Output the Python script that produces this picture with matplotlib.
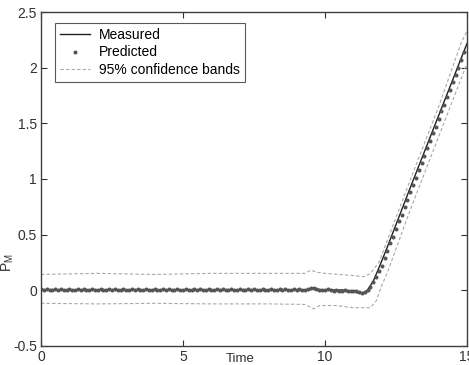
import numpy as np
import matplotlib.pyplot as plt

plt.rcParams['font.family'] = ['Liberation Sans', 'DejaVu Sans']

# measured response (key points of the solid line)
meas_t = [0.0, 2.0, 4.0, 6.0, 8.0, 9.4, 9.6, 10.0, 10.6, 11.0, 11.2, 11.4,
          11.5, 11.7, 11.9, 12.2, 13.0, 14.0, 15.0]
meas_v = [0.0, 0.0, 0.0, 0.0, 0.0, 0.0, 0.01, 0.0, 0.0, -0.01, -0.03, -0.02,
          0.0, 0.08, 0.2, 0.39, 0.92, 1.57, 2.22]

# predicted samples, every 0.1 time units from 0 to 14.9
pred_t = np.round(np.arange(0, 150) * 0.1, 1)
pred_v = [
    0.01, 0.0, 0.01, 0.0, 0.0, 0.01, 0.0, 0.01, 0.0, 0.0,
    0.01, 0.0, 0.0, 0.01, 0.0, 0.01, 0.0, 0.0, 0.01, 0.0,
    0.0, 0.01, 0.0, 0.0, 0.01, 0.0, 0.01, 0.0, 0.0, 0.01,
    0.0, 0.0, 0.01, 0.0, 0.01, 0.0, 0.0, 0.01, 0.0, 0.0,
    0.01, 0.0, 0.0, 0.01, 0.0, 0.01, 0.0, 0.0, 0.01, 0.0,
    0.0, 0.01, 0.0, 0.0, 0.01, 0.0, 0.01, 0.0, 0.0, 0.01,
    0.0, 0.0, 0.01, 0.0, 0.01, 0.0, 0.0, 0.01, 0.0, 0.0,
    0.01, 0.0, 0.0, 0.01, 0.0, 0.01, 0.0, 0.0, 0.01, 0.0,
    0.0, 0.01, 0.0, 0.0, 0.01, 0.0, 0.01, 0.0, 0.0, 0.01,
    0.0, 0.01, 0.0, 0.0, 0.01, 0.02, 0.02, 0.01, 0.0, 0.0,
    0.0, 0.01, 0.0, -0.01, 0.0, -0.01, -0.01, 0.0, -0.01, -0.01,
    -0.01, -0.01, -0.02, -0.03, -0.02, 0.0, 0.03, 0.07, 0.12, 0.17,
    0.22, 0.29, 0.35, 0.42, 0.48, 0.55, 0.62, 0.68, 0.75, 0.81,
    0.88, 0.95, 1.01, 1.08, 1.14, 1.21, 1.28, 1.34, 1.41, 1.47,
    1.54, 1.61, 1.67, 1.74, 1.80, 1.87, 1.94, 2.00, 2.07, 2.14,
]

# 95% confidence bands
upper_t = [0.0, 2.0, 4.0, 6.0, 8.0, 9.3, 9.5, 9.7, 10.0, 11.0, 11.4, 11.6,
           11.9, 12.2, 13.0, 14.0, 14.8, 15.0]
upper_v = [0.14, 0.15, 0.14, 0.15, 0.15, 0.15, 0.18, 0.16, 0.15, 0.13, 0.12,
           0.15, 0.25, 0.45, 0.99, 1.65, 2.23, 2.33]
lower_t = [0.0, 2.0, 4.0, 6.0, 8.0, 9.3, 9.6, 9.8, 10.4, 11.0, 11.6, 11.8,
           12.0, 12.2, 13.0, 14.0, 15.0]
lower_v = [-0.12, -0.125, -0.12, -0.125, -0.125, -0.13, -0.17, -0.14, -0.14,
           -0.16, -0.16, -0.1, 0.04, 0.16, 0.72, 1.38, 2.04]

fig = plt.figure(figsize=(4.69, 3.65), dpi=100)
ax = fig.add_axes([0.0874, 0.0534, 0.9083, 0.9124])

ax.plot(meas_t, meas_v, '-', color='#202020', lw=1.0, label='Measured')
ax.plot(pred_t, pred_v, '.', color='#555555', ms=3.8, label='Predicted')
ax.plot(upper_t, upper_v, '--', color='#a8a8a8', lw=0.8,
        dashes=(3, 2), label='95% confidence bands')
ax.plot(lower_t, lower_v, '--', color='#a8a8a8', lw=0.8, dashes=(3, 2))

ax.set_xlim(0, 15)
ax.set_ylim(-0.5, 2.5)
ax.set_xticks([0, 5, 10, 15])
ax.set_yticks([-0.5, 0, 0.5, 1, 1.5, 2, 2.5])
ax.set_yticklabels(['-0.5', '0', '0.5', '1', '1.5', '2', '2.5'])
ax.tick_params(direction='in', top=True, right=True, length=4,
               labelsize=10, colors='#303030', pad=3)
for s in ax.spines.values():
    s.set_color('#404040')
    s.set_linewidth(1.0)

ax.set_xlabel('Time', fontsize=9.5, color='#303030')
ax.xaxis.set_label_coords(0.468, -0.022)
ax.set_ylabel('P$_\\mathregular{M}$', fontsize=10, color='#303030')
ax.yaxis.set_label_coords(-0.058, 0.25)

leg = ax.legend(loc='upper left', bbox_to_anchor=(0.033, 0.968), fontsize=10,
                frameon=True, fancybox=False, borderpad=0.35, labelspacing=0.25,
                handlelength=2.2, handletextpad=0.6, borderaxespad=0)
leg.get_frame().set_edgecolor('#303030')
leg.get_frame().set_linewidth(0.8)

fig.savefig('out.png', dpi=100)
